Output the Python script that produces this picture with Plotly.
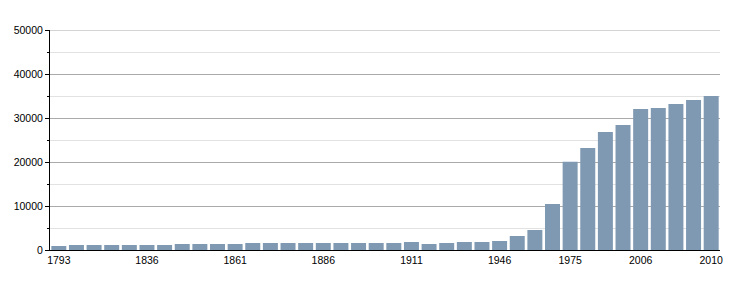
import plotly.graph_objects as go

years = [1793, 1800, 1806, 1821, 1831, 1836, 1841, 1846, 1851, 1856, 1861, 1866, 1872, 1876,
         1881, 1886, 1891, 1896, 1901, 1906, 1911, 1921, 1926, 1931, 1936, 1946, 1954, 1962,
         1968, 1975, 1982, 1990, 1999, 2006, 2007, 2008, 2009, 2010]
population = [910, 1140, 1140, 1140, 1140, 1140, 1140, 1360, 1360, 1360, 1360, 1590, 1590, 1590,
              1590, 1590, 1590, 1590, 1590, 1590, 1820, 1360, 1590, 1820, 1820, 2045, 3180, 4545,
              10455, 20070, 23180, 26820, 28410, 32045, 32270, 33180, 34090, 35000]
label_years = [1793, 1836, 1861, 1886, 1911, 1946, 1975, 2006, 2010]
y_major = [0, 10000, 20000, 30000, 40000, 50000]
y_minor = [5000, 15000, 25000, 35000, 45000]

idx = list(range(len(years)))
tickvals = [years.index(y) for y in label_years]

fig = go.Figure(go.Bar(x=idx, y=population, marker_color="#7f99b2", marker_line_width=0,
                       hovertext=[str(y) for y in years]))

fig.update_layout(
    width=750, height=300,
    margin=dict(l=50, r=30, t=30, b=50),
    plot_bgcolor="white", paper_bgcolor="white",
    bargap=0.15, showlegend=False,
    font=dict(family="Liberation Sans, Arial, sans-serif", size=10.5, color="#000"),
)
# top gridline (plotly hides the gridline that falls on the range edge)
fig.add_shape(type="line", xref="paper", x0=0, x1=1, yref="y", y0=y_major[-1], y1=y_major[-1],
              line=dict(color="#aaaaaa", width=1), layer="below")
fig.update_xaxes(range=[-0.5, len(years) - 0.5], tickmode="array", tickvals=tickvals,
                 ticktext=[str(y) for y in label_years], showline=True, linecolor="black",
                 linewidth=1, showgrid=False, ticks="", zeroline=False, tickangle=0)
fig.update_yaxes(range=[0, 50000], tickmode="array",
                 tickvals=y_major, ticktext=[str(v) for v in y_major],
                 showline=True, linecolor="black", linewidth=1,
                 ticks="outside", ticklen=4, tickcolor="black", showgrid=True, gridcolor="#aaaaaa",
                 gridwidth=1, zeroline=False,
                 minor=dict(tickmode="array", tickvals=y_minor,
                            ticks="outside", ticklen=2, tickcolor="black",
                            showgrid=True, gridcolor="#e2e2e2", gridwidth=1))

fig.write_html("out.html")
